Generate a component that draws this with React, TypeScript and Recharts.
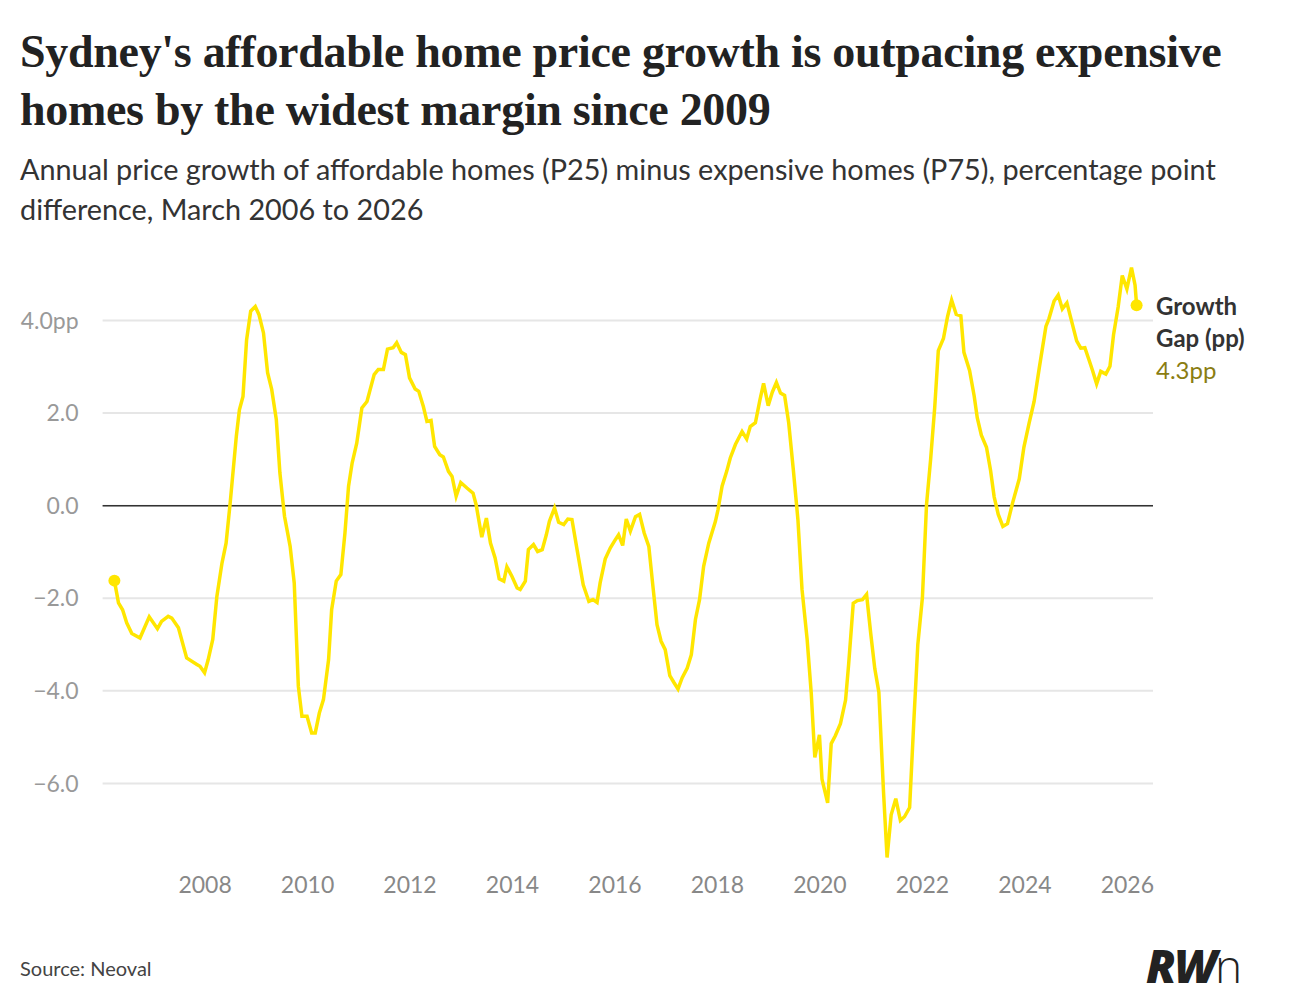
import { LineChart, Line, XAxis, YAxis, CartesianGrid, ReferenceLine } from "recharts";

// decimal year of each observation
const years = [
  2006.23, 2006.31, 2006.39, 2006.47, 2006.57, 2006.73, 2006.91, 2007.07, 2007.15, 2007.28,
  2007.35, 2007.48, 2007.64, 2007.84, 2007.9, 2007.99, 2008.06, 2008.15, 2008.23, 2008.33,
  2008.41, 2008.49, 2008.61, 2008.67, 2008.74, 2008.81, 2008.89, 2008.98, 2009.05, 2009.14,
  2009.22, 2009.3, 2009.39, 2009.46, 2009.55, 2009.66, 2009.74, 2009.82, 2009.89, 2009.99,
  2010.08, 2010.15, 2010.23, 2010.31, 2010.41, 2010.47, 2010.56, 2010.65, 2010.73, 2010.8,
  2010.87, 2010.96, 2011.06, 2011.16, 2011.3, 2011.38, 2011.48, 2011.56, 2011.67, 2011.74,
  2011.83, 2011.91, 2011.99, 2012.1, 2012.17, 2012.26, 2012.33, 2012.41, 2012.48, 2012.58,
  2012.65, 2012.75, 2012.82, 2012.9, 2012.99, 2013.11, 2013.23, 2013.29, 2013.4, 2013.49,
  2013.57, 2013.66, 2013.74, 2013.83, 2013.89, 2013.99, 2014.09, 2014.15, 2014.25, 2014.31,
  2014.41, 2014.49, 2014.58, 2014.66, 2014.72, 2014.82, 2014.9, 2015.0, 2015.08, 2015.16,
  2015.26, 2015.38, 2015.49, 2015.57, 2015.65, 2015.71, 2015.81, 2015.91, 2016.01, 2016.07,
  2016.15, 2016.22, 2016.3, 2016.4, 2016.48, 2016.57, 2016.66, 2016.74, 2016.82, 2016.9,
  2016.98, 2017.07, 2017.15, 2017.23, 2017.31, 2017.41, 2017.49, 2017.57, 2017.65, 2017.73,
  2017.83, 2017.96, 2018.01, 2018.09, 2018.18, 2018.25, 2018.35, 2018.48, 2018.57, 2018.64,
  2018.74, 2018.83, 2018.9, 2018.99, 2019.07, 2019.15, 2019.23, 2019.31, 2019.39, 2019.48,
  2019.57, 2019.65, 2019.75, 2019.83, 2019.9, 2019.99, 2020.04, 2020.15, 2020.22, 2020.3,
  2020.4, 2020.5, 2020.56, 2020.65, 2020.73, 2020.83, 2020.91, 2020.99, 2021.07, 2021.15,
  2021.24, 2021.31, 2021.39, 2021.48, 2021.57, 2021.65, 2021.75, 2021.83, 2021.91, 2022.0,
  2022.08, 2022.16, 2022.24, 2022.31, 2022.41, 2022.49, 2022.57, 2022.66, 2022.75, 2022.81,
  2022.92, 2023.01, 2023.07, 2023.15, 2023.25, 2023.33, 2023.4, 2023.48, 2023.57, 2023.66,
  2023.76, 2023.89, 2023.98, 2024.08, 2024.18, 2024.28, 2024.41, 2024.47, 2024.57, 2024.65,
  2024.73, 2024.82, 2024.91, 2025.01, 2025.09, 2025.17, 2025.25, 2025.32, 2025.4, 2025.48,
  2025.58, 2025.66, 2025.73, 2025.82, 2025.9, 2025.99, 2026.08, 2026.15, 2026.18,
];

// P25 growth minus P75 growth, percentage points
const gap = [
  -1.62, -2.1, -2.25, -2.53, -2.76, -2.86, -2.4, -2.66, -2.5, -2.39,
  -2.43, -2.64, -3.29, -3.43, -3.47, -3.61, -3.33, -2.89, -1.96, -1.24,
  -0.81, 0.06, 1.5, 2.07, 2.36, 3.58, 4.2, 4.3, 4.13, 3.73,
  2.87, 2.51, 1.86, 0.71, -0.23, -0.88, -1.67, -3.9, -4.55, -4.55,
  -4.91, -4.91, -4.48, -4.19, -3.33, -2.25, -1.63, -1.49, -0.59, 0.42,
  0.92, 1.35, 2.11, 2.25, 2.83, 2.94, 2.94, 3.38, 3.41, 3.52,
  3.31, 3.26, 2.76, 2.52, 2.47, 2.14, 1.82, 1.84, 1.28, 1.1,
  1.05, 0.74, 0.63, 0.2, 0.5, 0.38, 0.27, 0.02, -0.68, -0.27,
  -0.81, -1.13, -1.58, -1.63, -1.32, -1.53, -1.78, -1.81, -1.63, -0.95,
  -0.84, -0.99, -0.95, -0.63, -0.34, -0.05, -0.36, -0.41, -0.29, -0.3,
  -0.95, -1.71, -2.07, -2.03, -2.09, -1.67, -1.15, -0.91, -0.73, -0.63,
  -0.86, -0.29, -0.55, -0.24, -0.19, -0.59, -0.88, -1.74, -2.57, -2.93,
  -3.11, -3.67, -3.82, -3.96, -3.72, -3.51, -3.22, -2.46, -2.03, -1.31,
  -0.81, -0.34, -0.09, 0.42, 0.74, 1.03, 1.32, 1.6, 1.44, 1.71,
  1.79, 2.29, 2.64, 2.16, 2.45, 2.66, 2.43, 2.38, 1.79, 0.78,
  -0.3, -1.81, -2.89, -4.05, -5.44, -4.95, -5.91, -6.42, -5.14, -4.97,
  -4.71, -4.2, -3.43, -2.11, -2.05, -2.03, -1.92, -2.75, -3.52, -4.03,
  -6.17, -7.6, -6.68, -6.33, -6.8, -6.72, -6.52, -4.71, -3.0, -1.98,
  0.02, 1.0, 2.12, 3.35, 3.61, 4.08, 4.44, 4.13, 4.1, 3.31,
  2.92, 2.37, 1.9, 1.52, 1.26, 0.76, 0.19, -0.19, -0.45, -0.39,
  0.06, 0.58, 1.26, 1.77, 2.25, 2.97, 3.87, 4.04, 4.42, 4.55,
  4.25, 4.38, 3.99, 3.56, 3.4, 3.41, 3.15, 2.92, 2.63, 2.9,
  2.84, 3.01, 3.69, 4.29, 4.97, 4.68, 5.14, 4.76, 4.33,
];

const xTicks = [2008, 2010, 2012, 2014, 2016, 2018, 2020, 2022, 2024, 2026];
const yTicks = [-6, -4, -2, 0, 2, 4];

const data = years.map((year, i) => ({ year, gap: gap[i] }));
const YELLOW = "#FFE600";
const LATO = "Lato, 'Noto Sans', sans-serif";

const fmtY = (v: number) => {
  const s = Math.abs(v).toFixed(1);
  if (v === 4) return s + "pp";
  return v < 0 ? "\u2212" + s : s;
};

const EndDot = (props: any) => {
  const { cx, cy, index } = props;
  if (index !== 0 && index !== data.length - 1) return <g key={index} />;
  return <circle key={index} cx={cx} cy={cy} r={6} fill={YELLOW} />;
};

export default function App() {
  return (
    <div style={{ position: "absolute", left: 0, top: 0, width: 1295, height: 1000, background: "#fff", fontFamily: LATO }}>
      <div style={{ position: "absolute", left: 20, top: 23, fontFamily: "'Liberation Serif', serif", fontWeight: 700, fontSize: 46, lineHeight: "58px", color: "#222", letterSpacing: -0.3 }}>
        Sydney's affordable home price growth is outpacing expensive<br />homes by the widest margin since 2009
      </div>
      <div style={{ position: "absolute", left: 20, top: 149, fontSize: 28.8, lineHeight: "40px", color: "#333" }}>
        Annual price growth of affordable homes (P25) minus expensive homes (P75), percentage point<br />difference, March 2006 to 2026
      </div>
      <div style={{ position: "absolute", left: 0, top: 0 }}>
        <LineChart width={1295} height={1000} data={data} margin={{ top: 251, right: 142, bottom: 102, left: 12 }}>
          <CartesianGrid vertical={false} stroke="#e6e6e6" strokeWidth={2} horizontalValues={yTicks} />
          <XAxis
            dataKey="year"
            type="number"
            domain={[2006, 2026.5]}
            ticks={xTicks}
            axisLine={false}
            tickLine={false}
            tick={{ fill: "#888", fontSize: 23, fontFamily: LATO }}
            tickMargin={-5}
            height={22}
          />
          <YAxis
            type="number"
            domain={[-8, 5.5]}
            ticks={yTicks}
            tickFormatter={fmtY}
            axisLine={false}
            tickLine={false}
            width={90.6}
            tick={{ fill: "#999", fontSize: 23, fontFamily: LATO }}
            tickMargin={18}
          />
          <ReferenceLine y={0} stroke="#333" strokeWidth={1.5} />
          <Line
            type="linear"
            dataKey="gap"
            stroke={YELLOW}
            strokeWidth={3.5}
            dot={<EndDot />}
            activeDot={false}
            isAnimationActive={false}
          />
        </LineChart>
      </div>
      <div style={{ position: "absolute", left: 1156, top: 290, fontSize: 24, lineHeight: "32px", fontWeight: 700, color: "#333" }}>
        Growth<br />Gap (pp)
      </div>
      <div style={{ position: "absolute", left: 1156, top: 354, fontSize: 24, lineHeight: "32px", color: "#8a7d12" }}>4.3pp</div>
      <div style={{ position: "absolute", left: 20, top: 956, fontSize: 20, color: "#444" }}>Source: Neoval</div>
      <div style={{ position: "absolute", left: 1146, top: 934, fontSize: 46, fontWeight: 900, fontStyle: "italic", color: "#222", fontFamily: "'Open Sans', sans-serif", letterSpacing: -2 }}>
        RW<span style={{ fontWeight: 300, fontStyle: "normal" }}>n</span>
      </div>
    </div>
  );
}
